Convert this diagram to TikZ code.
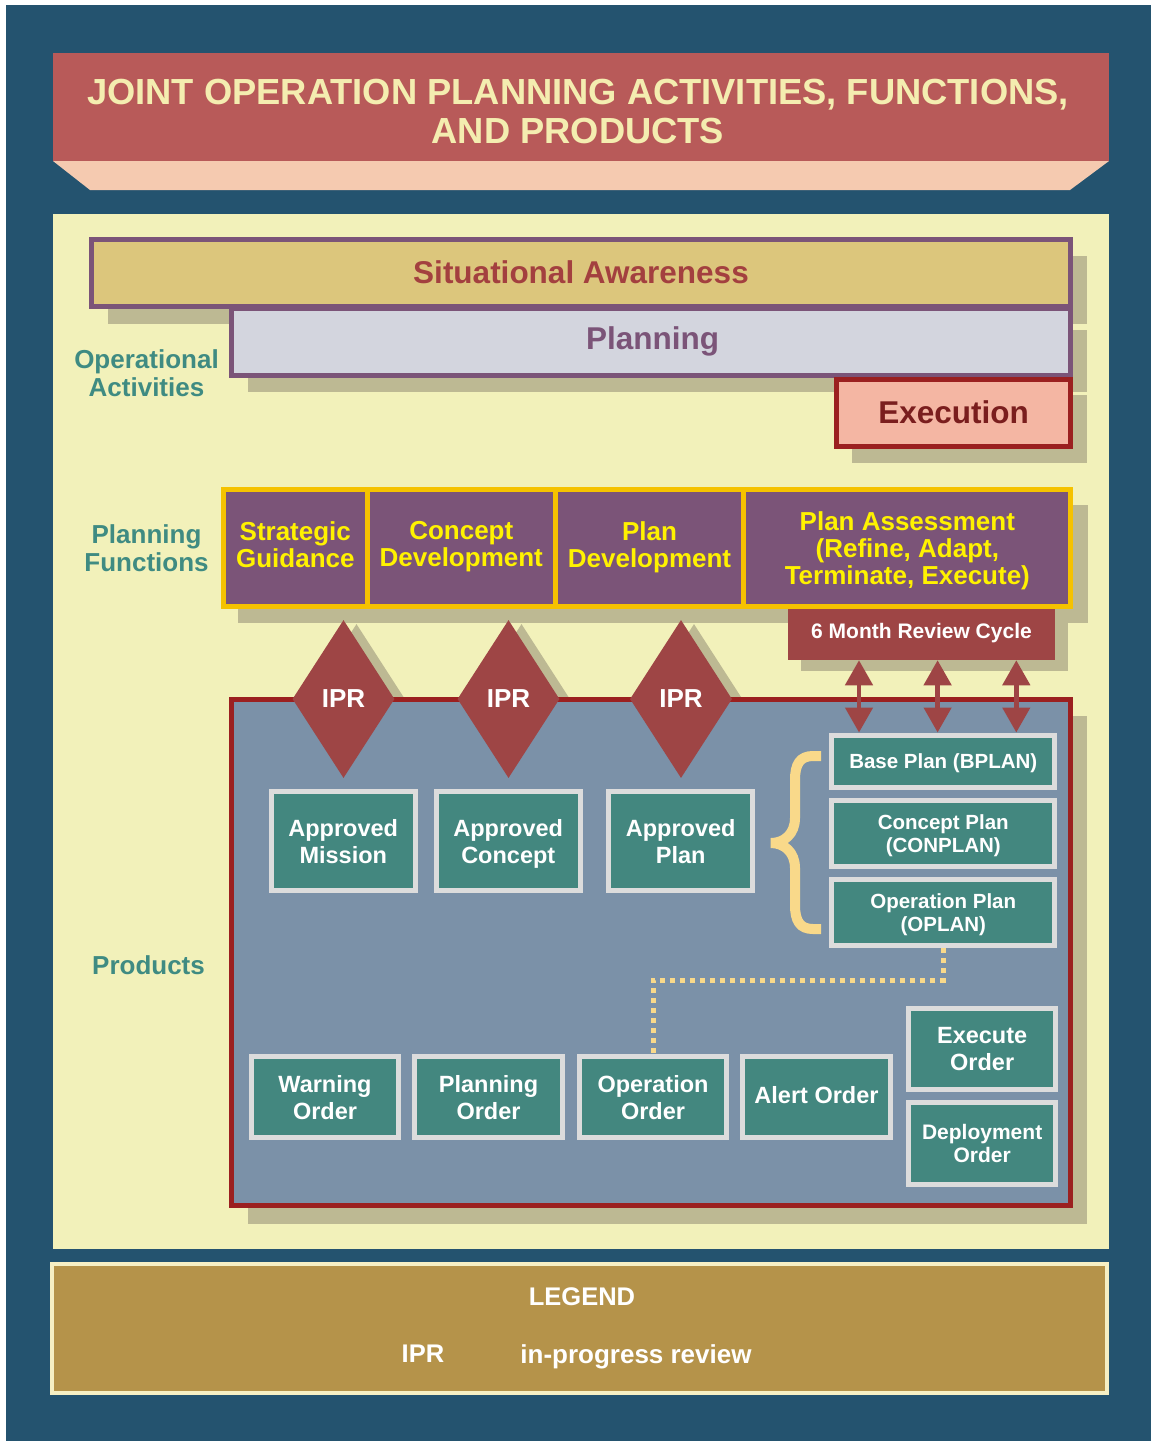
\documentclass[tikz,border=0pt]{standalone}
\usepackage{fontspec}
\setmainfont{Liberation Sans}
\usetikzlibrary{shapes.geometric,arrows.meta,calc}

\definecolor{bgblue}{HTML}{24536F}
\definecolor{titlered}{HTML}{B85A59}
\definecolor{titletxt}{HTML}{F4EDB0}
\definecolor{peach}{HTML}{F5CAB0}
\definecolor{cream}{HTML}{F2F1BA}
\definecolor{satan}{HTML}{DCC67C}
\definecolor{purp}{HTML}{7B5478}
\definecolor{plangray}{HTML}{D3D5DE}
\definecolor{shad}{HTML}{BDB993}
\definecolor{salmon}{HTML}{F4B6A3}
\definecolor{dkred}{HTML}{9B2020}
\definecolor{exectxt}{HTML}{7A1E1E}
\definecolor{sared}{HTML}{A3403F}
\definecolor{tealtxt}{HTML}{3F8B82}
\definecolor{fnyellow}{HTML}{F5C200}
\definecolor{fntxt}{HTML}{FFF200}
\definecolor{iprred}{HTML}{9E4545}
\definecolor{prodblue}{HTML}{7B91A8}
\definecolor{prodteal}{HTML}{43877F}
\definecolor{prodedge}{HTML}{DCDCDC}
\definecolor{braceyel}{HTML}{F9D98A}
\definecolor{legendfill}{HTML}{B5934A}
\definecolor{legendedge}{HTML}{F6EFC4}

\newcommand{\fsz}[2]{\fontsize{#1}{#2}\selectfont\bfseries}

\tikzset{
  plainbox/.style={rectangle, inner sep=0pt, text depth=0pt, align=center},
  actbox/.style={plainbox, line width=5pt},
  lbl/.style={text=tealtxt, font=\fsz{26}{28}, align=center, inner sep=0pt, text depth=0pt},
  fnbox/.style={plainbox, draw=fnyellow, fill=purp, line width=5pt, minimum height=117pt, text=fntxt, font=\fsz{26}{27}},
  ipr/.style={diamond, fill=iprred, minimum width=102pt, minimum height=158pt, inner sep=0pt, text=white, font=\fsz{26}{28}, text depth=0pt},
  iprshadow/.style={diamond, fill=shad, minimum width=102pt, minimum height=158pt, inner sep=0pt},
  prod/.style={plainbox, draw=prodedge, fill=prodteal, line width=5pt, text=white, font=\fsz{23.5}{27}},
  plan/.style={prod, font=\fsz{20.5}{23}, minimum width=222.9pt},
  revarrow/.style={draw=iprred, line width=4.7pt, >={Triangle[width=27pt,length=25pt]}, <->},
  dotline/.style={draw=braceyel, line width=5pt, dash pattern=on 5pt off 5pt},
  legtxt/.style={text=white, font=\fsz{25.5}{28}, inner sep=0pt, text depth=0pt},
}

\begin{document}
\begin{tikzpicture}[x=1pt, y=-1pt]
\useasboundingbox (0,0) rectangle (1151,1441);
\fill[white] (0,0) rectangle (1151,1441);
\fill[bgblue] (6,5) rectangle (1151,1441);

% title
\node[rectangle, fill=titlered, minimum width=1056pt, minimum height=108pt, inner sep=0pt] (title) at (581,107) {};
\fill[peach] (53,161) -- (1109,161) -- (1070,190) -- (90,190) -- cycle;
\node[text=titletxt, font=\fsz{36.3}{38.5}, align=center, inner sep=0pt, text depth=0pt] (titletext) at (578,111.5) {JOINT OPERATION PLANNING ACTIVITIES, FUNCTIONS,\\AND PRODUCTS};

% cream panel
\fill[cream] (53,214) rectangle (1109,1249);

% operational activities
\fill[shad] (108,256) rectangle (1087,324);
\fill[shad] (248,330) rectangle (1087,392);
\fill[shad] (852,395) rectangle (1087,463);
\node[actbox, fill=satan, draw=purp, minimum width=979.8pt, minimum height=66.7pt, text=sared, font=\fsz{31.5}{33}, text depth=2pt] (sa) at (581,273.15) {Situational Awareness};
\node[actbox, fill=plangray, draw=purp, minimum width=839.4pt, minimum height=66.7pt, text=purp, font=\fsz{31.5}{33}, text depth=7pt] (planning) at (651.2,341.85) {\hspace*{3pt}Planning};
\node[actbox, fill=salmon, draw=dkred, minimum width=234.6pt, minimum height=67.6pt, text=exectxt, font=\fsz{31.5}{33}, text depth=2pt] (execution) at (953.6,413) {Execution};

\node[lbl] (opact) at (146.5,373) {Operational\\Activities};
\node[lbl] (planfn) at (146.5,548) {Planning\\Functions};
\node[lbl] (products) at (148.5,965) {Products};

% planning functions
\fill[shad] (238,505) rectangle (1088,623);
\node[fnbox, minimum width=144pt, text depth=8pt] (sg) at (295.3,548.3) {Strategic\\Guidance};
\node[fnbox, minimum width=187.9pt, text depth=8pt] (cd) at (461.25,548.3) {Concept\\Development};
\node[fnbox, minimum width=188.6pt, text depth=8pt] (pd) at (649.5,548.3) {Plan\\Development};
\node[fnbox, minimum width=327.1pt] (pa) at (907.35,548.3) {Plan Assessment\\(Refine, Adapt,\\Terminate, Execute)};

% review cycle
\fill[shad] (801,620) rectangle (1068,671);
\node[plainbox, fill=iprred, minimum width=266.9pt, minimum height=50.7pt, text=white, font=\fsz{21}{23}, text depth=7pt] (review) at (921.5,634.7) {6 Month Review Cycle};

% products area
\node[iprshadow] (ipr1s) at (356.5,703) {};
\node[iprshadow] (ipr2s) at (521.5,703) {};
\node[iprshadow] (ipr3s) at (694,703) {};
\fill[shad] (248,716) rectangle (1087,1224);
\node[plainbox, draw=dkred, fill=prodblue, line width=5pt, minimum width=839.4pt, minimum height=506.3pt] (prodbox) at (651.2,952.35) {};

\node[ipr] (ipr1) at (343.5,699) {IPR};
\node[ipr] (ipr2) at (508.5,699) {IPR};
\node[ipr] (ipr3) at (681,699) {IPR};

\node[prod, minimum width=143.5pt, minimum height=99.3pt] (am) at (343.25,841) {Approved\\Mission};
\node[prod, minimum width=143.5pt, minimum height=99.3pt] (ac) at (508.25,841) {Approved\\Concept};
\node[prod, minimum width=143.6pt, minimum height=99.3pt] (ap) at (680.7,841) {Approved\\Plan};

\node[plan, minimum height=52.8pt] (bplan) at (943.25,761.4) {Base Plan (BPLAN)};
\node[plan, minimum height=66pt] (conplan) at (943.25,833.2) {Concept Plan\\(CONPLAN)};
\node[plan, minimum height=66.3pt] (oplan) at (943.25,912.65) {Operation Plan\\(OPLAN)};

\node[prod, minimum width=147pt, minimum height=81.3pt] (wo) at (325,1097.15) {Warning\\Order};
\node[prod, minimum width=147.4pt, minimum height=81.3pt] (po) at (488.5,1097.15) {Planning\\Order};
\node[prod, minimum width=147pt, minimum height=81.3pt] (oo) at (653,1097.15) {Operation\\Order};
\node[prod, minimum width=147.4pt, minimum height=81.3pt, text depth=4pt] (ao) at (816.5,1097.15) {Alert Order};
\node[prod, minimum width=147.3pt, minimum height=81.3pt, text depth=-6pt] (eo) at (982.15,1049.15) {Execute\\Order};
\node[prod, minimum width=147.3pt, minimum height=81.7pt, font=\fsz{21}{23}] (do) at (982.15,1143.35) {Deployment\\Order};

% review arrows
\coordinate (a1) at (859,0);
\coordinate (a2) at (937.6,0);
\coordinate (a3) at (1016.3,0);
\draw[revarrow] (review.south -| a1) -- (bplan.north -| a1);
\draw[revarrow] (review.south -| a2) -- (bplan.north -| a2);
\draw[revarrow] (review.south -| a3) -- (bplan.north -| a3);

% brace
\coordinate (brt) at (821,756);
\coordinate (brb) at (821,929);
\draw[braceyel, line width=10pt] (brt) -- (813,756) .. controls (800,756) and (795,764) .. (795,780) -- (795,818) .. controls (795,834) and (784,843) .. (771,843) .. controls (784,843) and (795,852) .. (795,868) -- (795,905) .. controls (795,921) and (800,929) .. (813,929) -- (brb);

% dotted connector
\draw[dotline] (oplan.south) -- ++(0,32) -| (oo.north);

% legend
\node[plainbox, draw=legendedge, fill=legendfill, line width=4pt, minimum width=1055pt, minimum height=129pt] (legend) at (579.5,1328.5) {};
\node[legtxt] (legtitle) at (582,1297) {LEGEND};
\node[legtxt] (legabbr) at (423,1354) {IPR};
\node[legtxt, anchor=base, font=\fsz{26}{28}] (legdef) at (636,1363) {in-progress review};
\end{tikzpicture}
\end{document}
